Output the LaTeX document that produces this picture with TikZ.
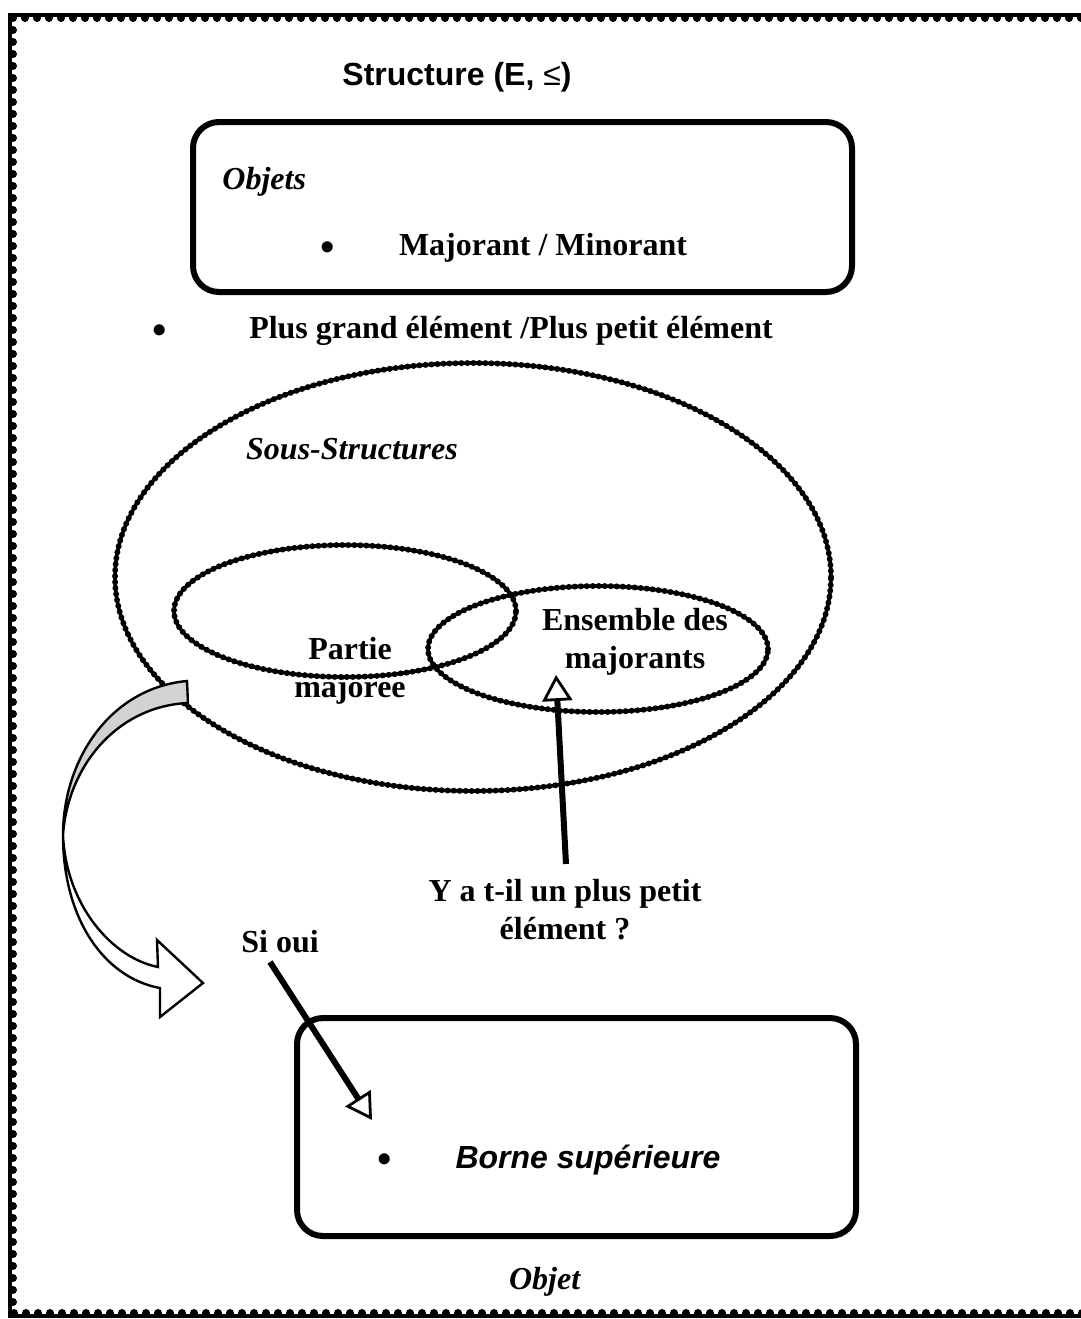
\documentclass[tikz,border=0pt]{standalone}
\usepackage{fontspec}
\setmainfont{Liberation Serif}
\setsansfont{Liberation Sans}
\usetikzlibrary{positioning,shapes.geometric,arrows.meta}

\tikzset{
	texte/.style={font=\fontsize{16}{19}\selectfont\bfseries, align=center, inner sep=0pt},
	titre/.style={font=\fontsize{16}{19}\selectfont\sffamily\bfseries, inner sep=0pt},
	puce/.style={font=\fontsize{15}{15}\selectfont, inner sep=0pt},
	boite/.style={draw, line width=3pt, rounded corners=13pt},
	perles/.style={draw, ellipse, inner sep=0pt, line width=1.8pt, postaction={draw, line width=3pt, dash pattern=on 0pt off 3pt, line cap=round}},
	fleche/.style={line width=3pt, -{Triangle[open, width=15pt, length=13pt, line width=1.4pt]}}
}

\begin{document}
\begin{tikzpicture}[x=0.5pt, y=-0.5pt]
			\useasboundingbox (0,0) rectangle (1081,1319);
			% cadre
			\draw[line width=2.2pt] (10,15) rectangle (1100,1316);
			\draw[line width=4pt, dash pattern=on 0pt off 6pt, line cap=round] (13,18) rectangle (1100,1313);

			\node[titre] (struct) at (457,77) {Structure (E, {\mdseries ≤})};

			% objets
			\draw[boite] (193,122) rectangle (852,292);
			\node[texte, anchor=west] (objets) at (222,182) {\textit{Objets}};
			\node[texte] (majmin) at (543,248) {Majorant / Minorant};
			\node[puce] (puce1) at (328,248) {$\bullet$};
			\node[texte] (pge) at (511,331) {Plus grand élément /Plus petit élément};
			\node[puce] (puce2) at (160,331) {$\bullet$};

			% sous-structures
			\node[perles, minimum width=358pt, minimum height=214pt] (sous) at (473,577) {};
			\node[perles, minimum width=171pt, minimum height=66pt] (partie) at (345,611) {};
			\node[perles, minimum width=170pt, minimum height=63pt] (majorants) at (598,649) {};
			\node[texte] (soustxt) at (352,449) {\textit{Sous-Structures}};
			\node[texte] (partietxt) at (350,671) {Partie\\majoree};
			\node[texte] (ensemble) at (635,642) {Ensemble des\\majorants};

			\node[texte] (question) at (565,910) {Y a t-il un plus petit\\élément ?};
			\node[texte] (sioui) at (280,942) {Si oui};

			\coordinate (depart) at (566,864);
			\coordinate (pointe) at (556,675);
			\draw[fleche] (depart) -- (pointe);
			\coordinate (depart2) at (270,962);
			\coordinate (pointe2) at (372,1120);
			\draw[fleche] (depart2) -- (pointe2);

			% fleche courbe
			\draw[line width=1.2pt, fill=gray!35] (187,681) .. controls (110,688) and (63,760) .. (63,835)
				.. controls (68,765) and (118,706) .. (188,703) -- cycle;
			\draw[line width=1.2pt, fill=white, line join=miter] (63,835) .. controls (63,920) and (105,978) .. (160,988)
				-- (160,1017) -- (203,983) -- (157,940) -- (158,967)
				.. controls (112,958) and (66,905) .. (63,835) -- cycle;

			% objet
			\draw[boite] (297,1018) rectangle (856,1236);
			\node[puce] (puce3) at (385,1160) {$\bullet$};
			\node[titre] (borne) at (588,1160) {\itshape Borne supérieure};
			\node[texte] (objet) at (545,1282) {\textit{Objet}};
		\end{tikzpicture}
\end{document}
